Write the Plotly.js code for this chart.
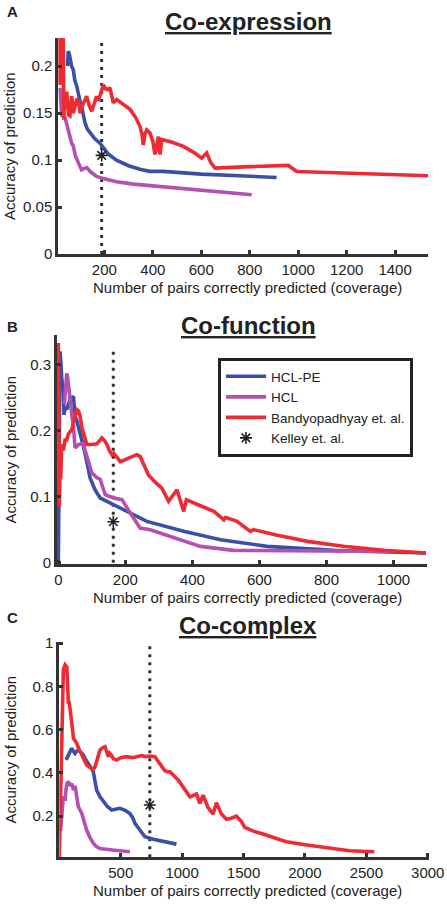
<!DOCTYPE html>
<html>
<head>
<meta charset="utf-8">
<script src="https://cdn.plot.ly/plotly-3.0.1.min.js"></script>
<style>html,body{margin:0;padding:0;background:#fff;}#chart{width:447px;height:907px;}</style>
</head>
<body>
<div id="chart"></div>
<script>
// ---------- Panel A : Co-expression ----------
const aBlueX = [48,51,56,60,65,72,78,86,92,100,106,113,120,130,141,160,182,200,216,250,300,350,388,443,600,911];
const aBlueY = [0.2,0.216,0.212,0.205,0.2,0.196,0.185,0.179,0.17,0.162,0.157,0.147,0.14,0.133,0.129,0.123,0.118,0.112,0.1065,0.1,0.094,0.09,0.088,0.088,0.085,0.0815];
const aMagX = [17,19,22,24,30,38,45,51,58,65,72,80,93,100,106,116,127,145,168,200,250,320,500,808];
const aMagY = [0.177,0.16,0.15,0.148,0.146,0.145,0.138,0.132,0.122,0.118,0.115,0.105,0.097,0.092,0.0897,0.091,0.092,0.087,0.0826,0.08,0.077,0.0744,0.07,0.063];
const aRedX = [10,11,14,17,20,25,30,31,33,36,40,45,52,58,65,72,79,86,93,100,106,118,127,138,148,158,168,175,185,196,205,216,223,230,237,251,275,306,330,347,355,361,368,375,388,400,409,416,423,427,430,437,480,526,570,602,615,622,640,657,800,959,994,1537];
const aRedY = [0.245,0.19,0.215,0.18,0.23,0.245,0.245,0.19,0.143,0.17,0.155,0.173,0.148,0.147,0.168,0.15,0.156,0.165,0.163,0.15,0.156,0.162,0.168,0.158,0.152,0.16,0.168,0.163,0.172,0.18,0.176,0.175,0.177,0.168,0.161,0.1645,0.16,0.154,0.145,0.136,0.128,0.116,0.128,0.132,0.129,0.12,0.106,0.118,0.125,0.11,0.106,0.122,0.119,0.1146,0.108,0.102,0.106,0.1075,0.097,0.0915,0.093,0.0943,0.0879,0.0833];
const aKelley = {x: 189, y: 0.105};
const aCutoffY = [0, 0.23];

// ---------- Panel B : Co-function ----------
const bBlueX = [0,1,3,5,8,10,15,17,20,25,30,35,45,50,55,65,75,82,90,95,110,125,145,164,200,264,374,484,623,822,1097];
const bBlueY = [0,0.1,0.25,0.32,0.3,0.28,0.262,0.224,0.235,0.232,0.24,0.247,0.252,0.222,0.215,0.197,0.176,0.16,0.141,0.128,0.11,0.098,0.093,0.088,0.078,0.0626,0.0475,0.0348,0.0247,0.0187,0.0147];
const bMagX = [18,22,25,28,30,35,40,45,50,55,60,68,75,80,85,92,100,115,125,132,140,165,190,215,244,274,350,424,523,992];
const bMagY = [0.24,0.27,0.287,0.28,0.27,0.242,0.225,0.2065,0.174,0.176,0.179,0.18,0.18,0.17,0.161,0.15,0.136,0.129,0.126,0.115,0.103,0.098,0.0955,0.075,0.0525,0.05,0.037,0.0247,0.0187,0.0172];
const bRedX = [0,1,2,3,5,7,9,10,15,20,25,30,40,48,55,60,65,70,75,85,100,115,130,138,145,152,160,165,185,210,234,244,249,269,289,309,329,354,374,382,420,464,494,499,533,573,583,650,743,850,972,1097];
const bRedY = [0.333,0.25,0.15,0.085,0.14,0.126,0.16,0.179,0.17,0.186,0.186,0.195,0.2015,0.22,0.232,0.23,0.222,0.205,0.1965,0.179,0.179,0.18,0.189,0.185,0.179,0.17,0.1636,0.166,0.153,0.158,0.1636,0.161,0.155,0.133,0.122,0.113,0.093,0.1106,0.0777,0.0955,0.087,0.0777,0.065,0.0687,0.0626,0.0475,0.05,0.042,0.0323,0.025,0.0187,0.0147];
const bKelley = {x: 164, y: 0.062};
const bCutoffY = [0, 0.325];

// ---------- Panel C : Co-complex ----------
const cBlueX = [55,61,68,74,85,101,115,128,140,155,175,196,215,237,257,277,290,304,330,358,390,426,460,494,540,575,600,616,650,697,765,860,954];
const cBlueY = [0.46,0.467,0.48,0.49,0.5,0.513,0.5,0.49,0.5,0.505,0.495,0.482,0.46,0.444,0.425,0.405,0.37,0.32,0.29,0.266,0.245,0.228,0.232,0.236,0.225,0.212,0.19,0.166,0.14,0.104,0.093,0.08,0.07];
const cMagX = [10,20,27,33,40,47,54,61,74,87,101,115,128,140,155,183,200,223,250,277,300,331,450,575];
const cMagY = [0.13,0.197,0.26,0.29,0.285,0.27,0.32,0.35,0.36,0.34,0.35,0.32,0.34,0.3,0.243,0.212,0.18,0.135,0.1,0.074,0.06,0.05,0.042,0.035];
const cRedX = [0,5,10,20,27,33,40,47,61,67,74,80,87,95,101,108,115,128,142,160,183,200,223,250,264,277,291,310,331,350,372,385,399,410,426,440,467,500,548,600,630,670,700,738,778,820,859,880,900,968,1036,1063,1090,1117,1144,1171,1210,1252,1279,1320,1361,1400,1442,1483,1509,1580,1658,1750,1848,2000,2146,2362,2565];
const cRedY = [0.01,0.15,0.35,0.552,0.75,0.876,0.89,0.9,0.89,0.8,0.72,0.73,0.7,0.68,0.63,0.6,0.56,0.55,0.537,0.51,0.482,0.46,0.436,0.425,0.42,0.415,0.428,0.47,0.505,0.515,0.521,0.5,0.475,0.49,0.48,0.465,0.459,0.47,0.475,0.47,0.475,0.48,0.475,0.478,0.475,0.44,0.41,0.405,0.405,0.367,0.3125,0.289,0.295,0.302,0.259,0.297,0.24,0.209,0.262,0.21,0.185,0.19,0.2,0.174,0.148,0.13,0.117,0.1,0.081,0.067,0.055,0.039,0.035];
const cKelley = {x: 737, y: 0.251};
const cCutoffY = [0.009, 1.007];

// ---------- tick labels ----------
const aXTicks = [200,400,600,800,1000,1200,1400];
const aYTicks = [0,0.05,0.1,0.15,0.2];
const aYText = ['0','0.05','0.1','0.15','0.2'];
const bXTicks = [0,200,400,600,800,1000];
const bYTicks = [0,0.1,0.2,0.3];
const bYText = ['0','0.1','0.2','0.3'];
const cXTicks = [500,1000,1500,2000,2500,3000];
const cYTicks = [0.2,0.4,0.6,0.8,1];
const cYText = ['0.2','0.4','0.6','0.8','1'];

const names = ['HCL-PE','HCL','Bandyopadhyay et. al.','Kelley et. al.'];
const panelTitles = ['Co-expression','Co-function','Co-complex'];
const panelLetters = ['A','B','C'];
const xTitle = 'Number of pairs correctly predicted (coverage)';
const yTitle = 'Accuracy of prediction';

// ---------- styling ----------
const BLUE = '#3c4fa6', MAG = '#b650b0', RED = '#ee2b33', AX = '#333333';
const LW = 3.6;
const W = 447, H = 907;
const FONT = 'Liberation Sans, Arial, sans-serif';

function panelTraces(s, bx, by, mx, my, rx, ry, kel, cut, showLeg) {
  return [
    {x: [kel.x, kel.x], y: cut, xaxis: 'x'+s, yaxis: 'y'+s, mode: 'lines', showlegend: false, hoverinfo: 'skip',
     line: {color: AX, width: 3, dash: '3px,5px'}},
    {x: bx, y: by, xaxis: 'x'+s, yaxis: 'y'+s, mode: 'lines', name: names[0], showlegend: showLeg,
     line: {color: BLUE, width: LW}},
    {x: mx, y: my, xaxis: 'x'+s, yaxis: 'y'+s, mode: 'lines', name: names[1], showlegend: showLeg,
     line: {color: MAG, width: LW}},
    {x: rx, y: ry, xaxis: 'x'+s, yaxis: 'y'+s, mode: 'lines', name: names[2], showlegend: showLeg,
     line: {color: RED, width: LW}},
    {x: [kel.x], y: [kel.y], xaxis: 'x'+s, yaxis: 'y'+s, mode: 'markers', name: names[3], showlegend: showLeg,
     cliponaxis: false,
     marker: {symbol: 'asterisk-open', size: 10, color: '#222', line: {color: '#222', width: 1.6}}}
  ];
}

const data = [].concat(
  panelTraces('', aBlueX, aBlueY, aMagX, aMagY, aRedX, aRedY, aKelley, aCutoffY, false),
  panelTraces('2', bBlueX, bBlueY, bMagX, bMagY, bRedX, bRedY, bKelley, bCutoffY, true),
  panelTraces('3', cBlueX, cBlueY, cMagX, cMagY, cRedX, cRedY, cKelley, cCutoffY, false)
);

function px2x(p) { return p / W; }
function py2y(p) { return 1 - p / H; }

function axisBase(extra) {
  return Object.assign({
    showline: true, linewidth: 3, linecolor: AX, mirror: false,
    showgrid: false, zeroline: false,
    ticks: 'inside', ticklen: 4, tickwidth: 3, tickcolor: AX,
    tickfont: {family: FONT, size: 15, color: '#222'},
    fixedrange: true
  }, extra);
}

const layout = {
  width: W, height: H,
  margin: {l: 0, r: 0, t: 0, b: 0},
  paper_bgcolor: '#ffffff', plot_bgcolor: 'rgba(0,0,0,0)',
  font: {family: FONT, color: '#222'},
  showlegend: true,
  legend: {
    x: px2x(218), y: py2y(358), xanchor: 'left', yanchor: 'top',
    bordercolor: '#222', borderwidth: 3, bgcolor: '#ffffff',
    font: {family: FONT, size: 13.5, color: '#222'},
    itemwidth: 40, tracegroupgap: 0
  },
  xaxis:  axisBase({domain: [px2x(58.3), px2x(428.3)], range: [10, 1537], tickvals: aXTicks, anchor: 'y'}),
  yaxis:  axisBase({domain: [py2y(254), py2y(38)], range: [0, 0.23], tickvals: aYTicks, ticktext: aYText, anchor: 'x'}),
  xaxis2: axisBase({domain: [px2x(57), px2x(427)], range: [-4, 1100], tickvals: bXTicks, anchor: 'y2'}),
  yaxis2: axisBase({domain: [py2y(564), py2y(335)], range: [-0.002, 0.345], tickvals: bYTicks, ticktext: bYText, anchor: 'x2'}),
  xaxis3: axisBase({domain: [px2x(59.3), px2x(429)], range: [0, 3010], tickvals: cXTicks, anchor: 'y3'}),
  yaxis3: axisBase({domain: [py2y(857.3), py2y(641.7)], range: [0.009, 1.007], tickvals: cYTicks, ticktext: cYText, anchor: 'x3'}),
  annotations: []
};

const titleY = [22, 325, 625];
const letterY = [12, 326, 617];
const xTitleY = [288, 597, 890];
const yTitleY = [146, 449.5, 749.5];
for (let i = 0; i < 3; i++) {
  layout.annotations.push({xref: 'paper', yref: 'paper', x: px2x(248), y: py2y(titleY[i]), xanchor: 'center', yanchor: 'middle',
    showarrow: false, text: '<b><u>' + panelTitles[i] + '</u></b>', font: {family: FONT, size: 24, color: '#222'}});
  layout.annotations.push({xref: 'paper', yref: 'paper', x: px2x(12), y: py2y(letterY[i]), xanchor: 'center', yanchor: 'middle',
    showarrow: false, text: '<b>' + panelLetters[i] + '</b>', font: {family: FONT, size: 15, color: '#222'}});
  layout.annotations.push({xref: 'paper', yref: 'paper', x: px2x(247), y: py2y(xTitleY[i]), xanchor: 'center', yanchor: 'middle',
    showarrow: false, text: xTitle, font: {family: FONT, size: 15, color: '#222'}});
  layout.annotations.push({xref: 'paper', yref: 'paper', x: px2x(10), y: py2y(yTitleY[i]), xanchor: 'center', yanchor: 'middle',
    showarrow: false, textangle: -90, text: yTitle, font: {family: FONT, size: 15, color: '#222'}});
}

Plotly.newPlot('chart', data, layout, {displayModeBar: false, staticPlot: true});
</script>
</body>
</html>
